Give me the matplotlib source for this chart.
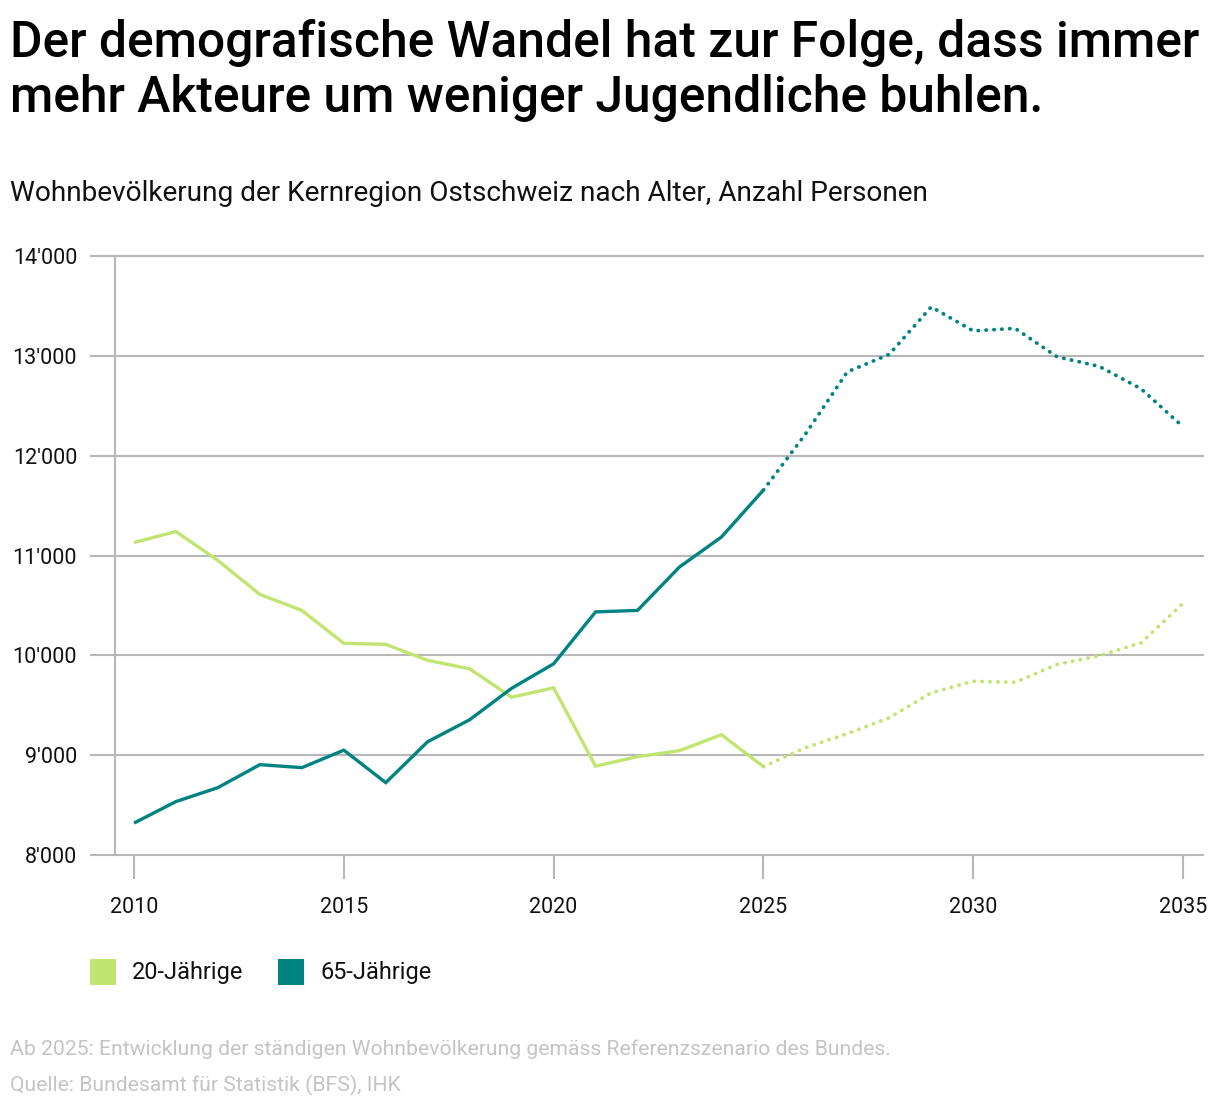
import matplotlib
matplotlib.use("Agg")
import matplotlib.pyplot as plt
from matplotlib.patches import Rectangle

# ---------------- data ----------------
years_hist = list(range(2010, 2026))
years_proj = list(range(2025, 2036))

age20_hist = [11130, 11240, 10950, 10610, 10450, 10120, 10110, 9950, 9865,
              9580, 9675, 8890, 8985, 9045, 9205, 8885]
age20_proj = [8885, 9075, 9215, 9375, 9625, 9740, 9730, 9910, 9995, 10125, 10520]

age65_hist = [8320, 8535, 8675, 8905, 8875, 9050, 8725, 9135, 9355,
              9670, 9915, 10435, 10450, 10885, 11185, 11655]
age65_proj = [11655, 12215, 12840, 13015, 13490, 13250, 13275, 12990, 12895, 12670, 12290]

series_labels = ["20-Jährige", "65-Jährige"]
x_ticks = [2010, 2015, 2020, 2025, 2030, 2035]
y_ticks = [8000, 9000, 10000, 11000, 12000, 13000, 14000]
y_tick_labels = ["8'000", "9'000", "10'000", "11'000", "12'000", "13'000", "14'000"]

title_lines = ["Der demografische Wandel hat zur Folge, dass immer",
               "mehr Akteure um weniger Jugendliche buhlen."]
subtitle = "Wohnbevölkerung der Kernregion Ostschweiz nach Alter, Anzahl Personen"
note1 = "Ab 2025: Entwicklung der ständigen Wohnbevölkerung gemäss Referenzszenario des Bundes."
note2 = "Quelle: Bundesamt für Statistik (BFS), IHK"

# ---------------- style ----------------
GREEN = "#c1e570"
TEAL = "#008381"
GRID = "#b8b8b8"
NOTE = "#c4c4c4"
FONT = "Roboto"
TXT = "#111111"

W, H = 1220, 1108
fig = plt.figure(figsize=(W / 100, H / 100), dpi=100)

def fx(px):
    return px / W

def fy(py):
    return 1 - py / H

ax = fig.add_axes([fx(91), fy(855), fx(1203) - fx(91), fy(256) - fy(855)])
px_per_year = (1183 - 134) / 25
ax.set_xlim(2010 - (134 - 91) / px_per_year, 2035 + (1203 - 1183) / px_per_year)
ax.set_ylim(8000, 14000)

for s in ax.spines.values():
    s.set_visible(False)

for yv in y_ticks:
    ax.axhline(yv, color=GRID, lw=1.5, zorder=1, clip_on=False)
ax.plot([2010 - (134 - 115) / px_per_year] * 2, [8000, 14000], color=GRID, lw=1.5,
        zorder=1, clip_on=False)

ax.set_yticks(y_ticks)
ax.set_yticklabels(y_tick_labels, fontfamily=FONT, fontsize=15.5)
ax.tick_params(axis="y", length=0, pad=10, colors=TXT)

ax.set_xticks(x_ticks)
ax.set_xticklabels([str(x) for x in x_ticks], fontfamily=FONT, fontsize=15.5)
ax.tick_params(axis="x", length=17, width=1.5, color=GRID, pad=13, labelcolor=TXT)

lw = 2.4
ax.plot(years_hist, age20_hist, color=GREEN, lw=lw, solid_capstyle="butt",
        solid_joinstyle="miter", zorder=3)
ax.plot(years_proj, age20_proj, color=GREEN, lw=2.7, linestyle=(0, (0.1, 2.0)),
        dash_capstyle="round", zorder=3)
ax.plot(years_hist, age65_hist, color=TEAL, lw=lw, solid_capstyle="butt",
        solid_joinstyle="miter", zorder=4)
ax.plot(years_proj, age65_proj, color=TEAL, lw=2.7, linestyle=(0, (0.1, 2.0)),
        dash_capstyle="round", zorder=4)

# ---------------- texts ----------------
for line, base in zip(title_lines, [57, 112]):
    fig.text(fx(10), fy(base), line, fontfamily=FONT, fontweight="medium", fontsize=35.8,
             va="baseline", ha="left", color="#000000")
fig.text(fx(10), fy(201), subtitle, fontfamily=FONT, fontsize=20.2,
         va="baseline", ha="left", color=TXT)

# legend
colors = [GREEN, TEAL]
sq_x = [90, 278]
for lab, c, x0 in zip(series_labels, colors, sq_x):
    fig.add_artist(Rectangle((fx(x0), fy(985)), fx(26), fy(959) - fy(985),
                             transform=fig.transFigure, facecolor=c, edgecolor="none"))
    fig.text(fx(x0 + 42), fy(972), lab, fontfamily=FONT,
             fontsize=16.9, va="center", ha="left", color=TXT)

fig.text(fx(10), fy(1055), note1, fontfamily=FONT, fontsize=15.2,
         va="baseline", ha="left", color=NOTE)
fig.text(fx(10), fy(1091), note2, fontfamily=FONT, fontsize=15.2,
         va="baseline", ha="left", color=NOTE)

fig.savefig("out.png", dpi=100, facecolor="white")
